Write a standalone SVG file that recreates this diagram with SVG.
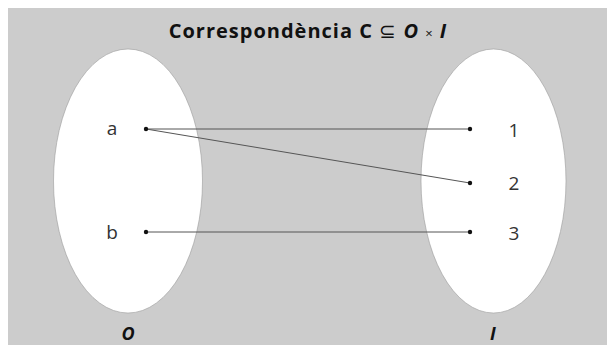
<svg xmlns="http://www.w3.org/2000/svg" width="609" height="345" viewBox="0 0 609 345">
<style>
.set{fill:#ffffff;stroke:#9a9a9a;stroke-width:0.6}
.lbl{font-family:"Open Sans","Noto Sans",sans-serif;font-size:19px;fill:#333;text-anchor:middle}
.nm{font-family:"Open Sans","Noto Sans",sans-serif;font-size:18px;font-weight:bold;font-style:italic;fill:#111;text-anchor:middle}
.ttl{font-family:"Open Sans","Noto Sans",sans-serif;font-size:20px;font-weight:bold;fill:#111;text-anchor:middle;letter-spacing:1px}
.dot{fill:#111}
.edge{stroke:#555;stroke-width:1;fill:none}
</style>
<rect x="0" y="0" width="609" height="345" fill="#ffffff"/>
<rect x="8" y="8" width="599" height="337" fill="#cccccc"/>
<text class="ttl" x="308" y="38">Correspondència C <tspan font-weight="normal">⊆</tspan> <tspan font-style="italic">O</tspan> <tspan font-weight="normal" font-size="13">×</tspan> <tspan font-style="italic">I</tspan></text>
<g id="set-O">
<ellipse class="set" cx="128" cy="181" rx="74.5" ry="132"/>
<text class="nm" x="128" y="340">O</text>
</g>
<g id="set-I">
<ellipse class="set" cx="493.5" cy="181" rx="72.5" ry="132"/>
<text class="nm" x="493" y="340">I</text>
</g>
<g id="connectors">
<line class="edge" x1="146" y1="129" x2="470" y2="129"/>
<line class="edge" x1="146" y1="129" x2="470" y2="183"/>
<line class="edge" x1="146" y1="232" x2="470" y2="232"/>
</g>
<g id="node-a"><circle class="dot" cx="146" cy="129" r="2.2"/><text class="lbl" x="112" y="135">a</text></g>
<g id="node-b"><circle class="dot" cx="146" cy="232" r="2.2"/><text class="lbl" x="112" y="239">b</text></g>
<g id="node-1"><circle class="dot" cx="470" cy="129" r="2.2"/><text class="lbl" x="514" y="137">1</text></g>
<g id="node-2"><circle class="dot" cx="470" cy="183" r="2.2"/><text class="lbl" x="514" y="190">2</text></g>
<g id="node-3"><circle class="dot" cx="470" cy="232" r="2.2"/><text class="lbl" x="514" y="240">3</text></g>
</svg>
